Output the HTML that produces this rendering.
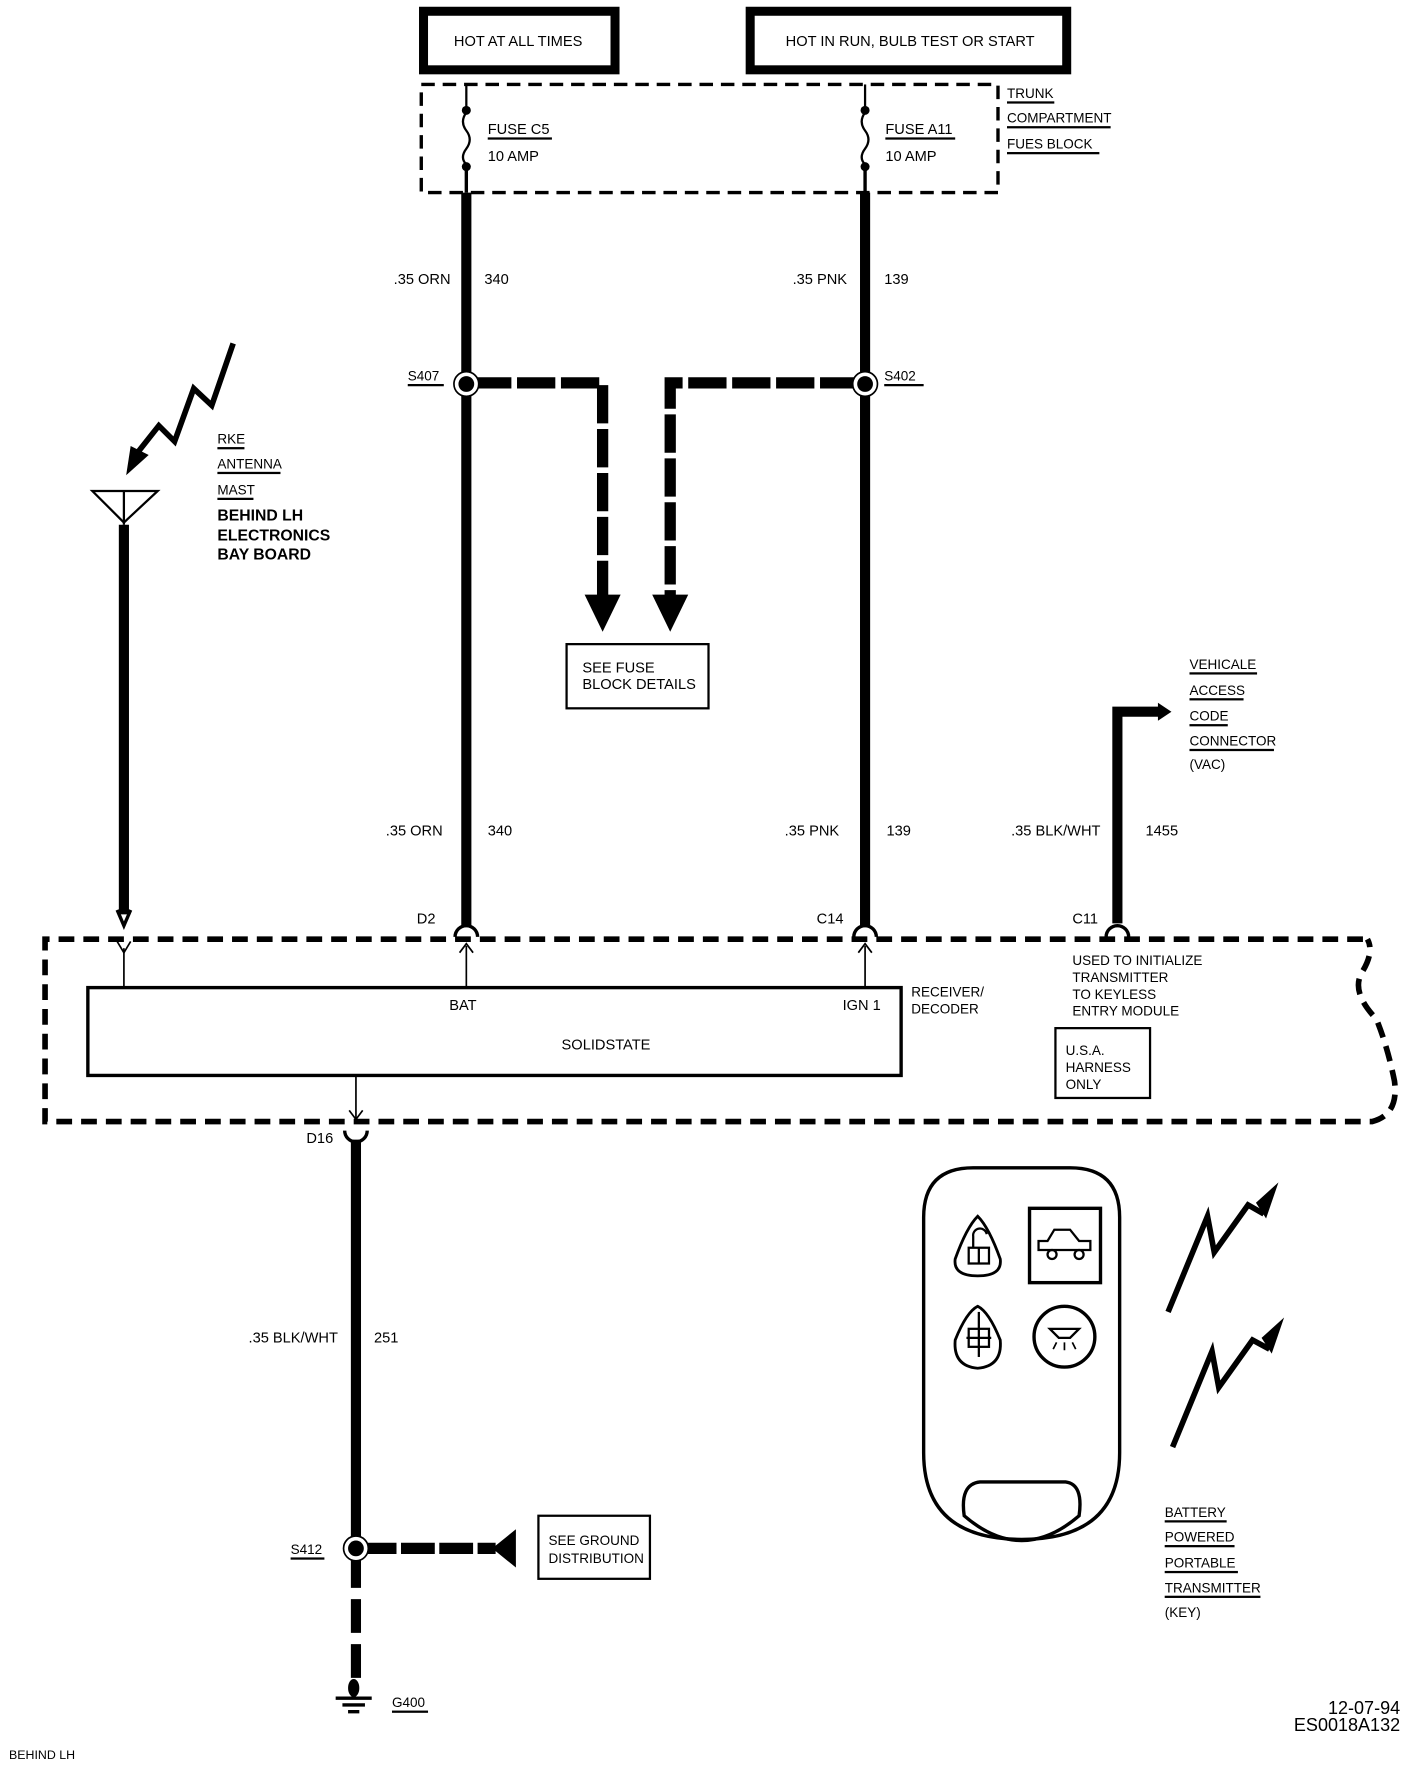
<!DOCTYPE html>
<html><head><meta charset="utf-8"><style>
html,body{margin:0;padding:0;background:#fff}
svg{display:block}
text{font-family:"Liberation Sans",sans-serif;fill:#000}
</style></head><body>
<svg width="1408" height="1768" viewBox="0 0 1250 1570" preserveAspectRatio="none" xmlns="http://www.w3.org/2000/svg">
<g font-size="13">
<rect x="376" y="10" width="170" height="52" fill="none" stroke="#000" stroke-width="8"/>
<text x="460" y="41" text-anchor="middle" font-size="13">HOT AT ALL TIMES</text>
<rect x="666" y="10" width="281" height="52" fill="none" stroke="#000" stroke-width="8"/>
<text x="808" y="41" text-anchor="middle" font-size="13">HOT IN RUN, BULB TEST OR START</text>
<rect x="374" y="75" width="512" height="96" fill="none" stroke="#000" stroke-width="3" stroke-dasharray="12,7"/>
<g stroke="#000" stroke-width="2" fill="none">
<line x1="414" y1="75" x2="414" y2="97"/><path d="M414 100 q-6 8 0 16 q6 8 0 16 q-6 8 0 14"/>
<line x1="768" y1="75" x2="768" y2="97"/><path d="M768 100 q-6 8 0 16 q6 8 0 16 q-6 8 0 14"/>
</g>
<circle cx="414" cy="98" r="4"/><circle cx="414" cy="148" r="4"/>
<circle cx="768" cy="98" r="4"/><circle cx="768" cy="148" r="4"/>
<line x1="414" y1="148" x2="414" y2="171" stroke="#000" stroke-width="3"/>
<line x1="768" y1="148" x2="768" y2="171" stroke="#000" stroke-width="3"/>
<text x="433" y="119">FUSE C5</text><rect x="433" y="122" width="57" height="2"/>
<text x="433" y="143">10 AMP</text>
<text x="786" y="119">FUSE A11</text><rect x="786" y="122" width="62" height="2"/>
<text x="786" y="143">10 AMP</text>
<text x="894" y="87" font-size="12">TRUNK</text><rect x="894" y="90" width="42" height="2"/>
<text x="894" y="109" font-size="12">COMPARTMENT</text><rect x="894" y="112" width="92" height="2"/>
<text x="894" y="132" font-size="12">FUES BLOCK</text><rect x="894" y="135" width="82" height="2"/>
<line x1="414" y1="171" x2="414" y2="822" stroke="#000" stroke-width="9"/>
<line x1="768" y1="171" x2="768" y2="822" stroke="#000" stroke-width="9"/>
<text x="400" y="252" text-anchor="end">.35 ORN</text><text x="430" y="252">340</text>
<text x="752" y="252" text-anchor="end">.35 PNK</text><text x="785" y="252">139</text>
<g stroke="#000" stroke-width="10" fill="none" stroke-dasharray="34,5">
<path d="M420 340 H535 V530"/>
<path d="M762 340 H595 V530"/>
</g>
<polygon points="519,528 551,528 535,561"/>
<polygon points="579,528 611,528 595,561"/>
<circle cx="414" cy="341" r="11" fill="#fff" stroke="#000" stroke-width="1.5"/><circle cx="414" cy="341" r="7"/>
<circle cx="768" cy="341" r="11" fill="#fff" stroke="#000" stroke-width="1.5"/><circle cx="768" cy="341" r="7"/>
<text x="362" y="338" font-size="12">S407</text><rect x="362" y="341" width="32" height="2"/>
<text x="785" y="338" font-size="12">S402</text><rect x="785" y="341" width="35" height="2"/>
<rect x="503" y="572" width="126" height="57" fill="none" stroke="#000" stroke-width="2"/>
<text x="517" y="597" font-size="13">SEE  FUSE</text>
<text x="517" y="612" font-size="13">BLOCK DETAILS</text>
<polygon points="82,436 140,436 110,464" fill="none" stroke="#000" stroke-width="2"/>
<line x1="110" y1="436" x2="110" y2="466" stroke="#000" stroke-width="2"/>
<line x1="110" y1="466" x2="110" y2="812" stroke="#000" stroke-width="9"/>
<path d="M104 808 L110 822 L116 808" stroke="#000" stroke-width="3" fill="none"/>
<path d="M207 305 L188 360 L172 345 L155 392 L141 378 L122 402" stroke="#000" stroke-width="5" fill="none"/>
<polygon points="112,422 116,396 132,404"/>
<text x="193" y="394" font-size="12">RKE</text><rect x="193" y="397" width="24" height="2"/>
<text x="193" y="416" font-size="12">ANTENNA</text><rect x="193" y="419" width="56" height="2"/>
<text x="193" y="439" font-size="12">MAST</text><rect x="193" y="442" width="32" height="2"/>
<text x="193" y="462" font-size="14" font-weight="bold">BEHIND LH</text>
<text x="193" y="480" font-size="14" font-weight="bold">ELECTRONICS</text>
<text x="193" y="497" font-size="14" font-weight="bold">BAY BOARD</text>
<text x="393" y="742" text-anchor="end">.35 ORN</text><text x="433" y="742">340</text>
<text x="745" y="742" text-anchor="end">.35 PNK</text><text x="787" y="742">139</text>
<text x="977" y="742" text-anchor="end">.35 BLK/WHT</text><text x="1017" y="742">1455</text>
<path d="M992 820 V632 H1030" stroke="#000" stroke-width="9" fill="none"/>
<polygon points="1028,624 1040,632 1028,640"/>
<text x="1056" y="594" font-size="12">VEHICALE</text><rect x="1056" y="597" width="60" height="2"/>
<text x="1056" y="617" font-size="12">ACCESS</text><rect x="1056" y="620" width="48" height="2"/>
<text x="1056" y="640" font-size="12">CODE</text><rect x="1056" y="643" width="34" height="2"/>
<text x="1056" y="662" font-size="12">CONNECTOR</text><rect x="1056" y="665" width="75" height="2"/>
<text x="1056" y="683" font-size="12">(VAC)</text>
<g stroke="#000" stroke-width="3" fill="none">
<path d="M404 832 a10 10 0 0 1 20 0"/><path d="M758 832 a10 10 0 0 1 20 0"/><path d="M982 832 a10 10 0 0 1 20 0"/>
</g>
<text x="370" y="820">D2</text><text x="725" y="820">C14</text><text x="952" y="820">C11</text>
<path d="M1210 834 H40 V996 H1218 Q1242 990 1238 960 Q1232 930 1222 905 Q1198 880 1210 862 Q1220 845 1214 834" fill="none" stroke="#000" stroke-width="5" stroke-dasharray="14,8"/>
<g stroke="#000" stroke-width="1.5" fill="none">
<line x1="110" y1="842" x2="110" y2="876"/><path d="M104 836 L110 846 L116 836"/>
<line x1="414" y1="840" x2="414" y2="876"/><path d="M408 846 L414 838 L420 846"/>
<line x1="768" y1="840" x2="768" y2="876"/><path d="M762 846 L768 838 L774 846"/>
<line x1="316" y1="955" x2="316" y2="993"/><path d="M310 986 L316 994 L322 986"/>
</g>
<rect x="78" y="877" width="722" height="78" fill="none" stroke="#000" stroke-width="3"/>
<text x="411" y="897" text-anchor="middle">BAT</text>
<text x="765" y="897" text-anchor="middle">IGN 1</text>
<text x="538" y="932" text-anchor="middle">SOLIDSTATE</text>
<text x="809" y="885" font-size="12">RECEIVER/</text>
<text x="809" y="900" font-size="12">DECODER</text>
<text x="952" y="857" font-size="12">USED TO INITIALIZE</text>
<text x="952" y="872" font-size="12">TRANSMITTER</text>
<text x="952" y="887" font-size="12">TO KEYLESS</text>
<text x="952" y="902" font-size="12">ENTRY MODULE</text>
<rect x="937" y="913" width="84" height="62" fill="none" stroke="#000" stroke-width="2"/>
<text x="946" y="937" font-size="12">U.S.A.</text>
<text x="946" y="952" font-size="12">HARNESS</text>
<text x="946" y="967" font-size="12">ONLY</text>
<path d="M306 1004 a10 10 0 0 0 20 0" stroke="#000" stroke-width="3" fill="none"/>
<text x="272" y="1015">D16</text>
<line x1="316" y1="1012" x2="316" y2="1380" stroke="#000" stroke-width="9"/>
<text x="300" y="1192" text-anchor="end">.35 BLK/WHT</text><text x="332" y="1192">251</text>
<line x1="316" y1="1380" x2="316" y2="1500" stroke="#000" stroke-width="9" stroke-dasharray="30,10"/>
<line x1="322" y1="1375" x2="440" y2="1375" stroke="#000" stroke-width="10" stroke-dasharray="30,4"/>
<polygon points="437,1375 458,1358 458,1392"/>
<circle cx="316" cy="1375" r="11" fill="#fff" stroke="#000" stroke-width="1.5"/><circle cx="316" cy="1375" r="7"/>
<text x="258" y="1380" font-size="12">S412</text><rect x="258" y="1383" width="30" height="2"/>
<rect x="478" y="1346" width="99" height="56" fill="none" stroke="#000" stroke-width="2"/>
<text x="487" y="1372" font-size="12">SEE GROUND</text>
<text x="487" y="1388" font-size="12">DISTRIBUTION</text>
<ellipse cx="314" cy="1499" rx="5" ry="8"/>
<line x1="298" y1="1508" x2="330" y2="1508" stroke="#000" stroke-width="3"/>
<line x1="304" y1="1514" x2="324" y2="1514" stroke="#000" stroke-width="3"/>
<line x1="309" y1="1520" x2="319" y2="1520" stroke="#000" stroke-width="3"/>
<text x="348" y="1516" font-size="12">G400</text><rect x="348" y="1519" width="32" height="2"/>
<path d="M864 1037 H950 Q994 1037 994 1081 V1290 Q994 1367 907 1367 Q820 1367 820 1290 V1081 Q820 1037 864 1037 Z" fill="none" stroke="#000" stroke-width="3"/>
<path d="M856 1346 Q852 1318 870 1316 H946 Q962 1318 958 1346 Q907 1390 856 1346 Z" fill="none" stroke="#000" stroke-width="3"/>
<path d="M868 1080 Q878 1090 888 1118 Q890 1133 868 1133 Q846 1133 848 1118 Q858 1090 868 1080 Z" fill="none" stroke="#000" stroke-width="2.5"/>
<rect x="860" y="1108" width="18" height="14" fill="none" stroke="#000" stroke-width="2"/><line x1="869" y1="1108" x2="869" y2="1122" stroke="#000" stroke-width="2"/>
<path d="M864 1108 V1098 a6 6 0 0 1 12 -2" stroke="#000" stroke-width="2" fill="none"/>
<rect x="914" y="1073" width="63" height="66" fill="none" stroke="#000" stroke-width="3"/>
<path d="M922 1110 H968 V1102 H958 L950 1092 H936 L930 1102 H922 Z" fill="none" stroke="#000" stroke-width="2"/>
<circle cx="934" cy="1114" r="4" fill="none" stroke="#000" stroke-width="2"/><circle cx="958" cy="1114" r="4" fill="none" stroke="#000" stroke-width="2"/>
<path d="M868 1160 Q878 1165 888 1190 Q890 1213 868 1215 Q846 1213 848 1190 Q858 1165 868 1160 Z" fill="none" stroke="#000" stroke-width="2.5"/>
<rect x="860" y="1180" width="18" height="16" fill="none" stroke="#000" stroke-width="2"/><line x1="869" y1="1165" x2="869" y2="1205" stroke="#000" stroke-width="2"/><line x1="858" y1="1188" x2="880" y2="1188" stroke="#000" stroke-width="2"/>
<circle cx="945" cy="1187" r="27" fill="none" stroke="#000" stroke-width="3"/>
<path d="M932 1180 H958 L950 1188 H940 Z" fill="none" stroke="#000" stroke-width="2"/>
<path d="M938 1192 l-3 6 M945 1192 v7 M952 1192 l3 6" stroke="#000" stroke-width="1.5"/>
<g stroke="#000" stroke-width="5" fill="none">
<path d="M1037 1165 L1072 1080 L1078 1112 L1108 1070 L1122 1078"/>
<path d="M1041 1285 L1076 1200 L1082 1232 L1112 1190 L1127 1198"/>
</g>
<polygon points="1135,1050 1124,1082 1115,1068"/>
<polygon points="1140,1170 1129,1202 1120,1188"/>
<text x="1034" y="1347" font-size="12">BATTERY</text><rect x="1034" y="1350" width="55" height="2"/>
<text x="1034" y="1369" font-size="12">POWERED</text><rect x="1034" y="1372" width="62" height="2"/>
<text x="1034" y="1392" font-size="12">PORTABLE</text><rect x="1034" y="1395" width="65" height="2"/>
<text x="1034" y="1414" font-size="12">TRANSMITTER</text><rect x="1034" y="1417" width="85" height="2"/>
<text x="1034" y="1436" font-size="12">(KEY)</text>
<text x="1243" y="1522" text-anchor="end" font-size="16" font-family="Liberation Mono">12-07-94</text>
<text x="1243" y="1537" text-anchor="end" font-size="16" font-family="Liberation Mono">ES0018A132</text>
<text x="8" y="1562" font-size="11">BEHIND LH</text>
</g>
</svg>
</body></html>
